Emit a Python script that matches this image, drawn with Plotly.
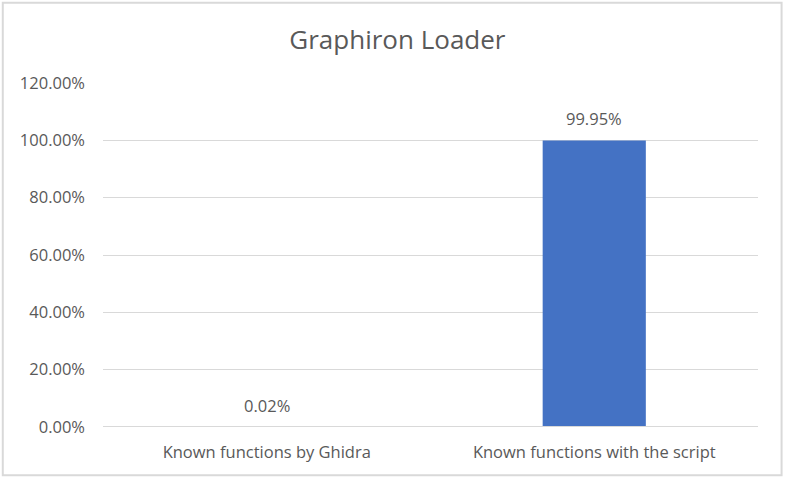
import plotly.graph_objects as go

categories = ["Known functions by Ghidra", "Known functions with the script"]
shares = [0.0002, 0.9995]
y_ticks = [0, 0.2, 0.4, 0.6, 0.8, 1.0, 1.2]

TEXT = "#595959"
GRID = "#D9D9D9"
FONT = "Open Sans"

fig = go.Figure(go.Bar(
    x=categories,
    y=shares,
    marker=dict(color="#4472C4", line=dict(width=0)),
    hoverinfo="skip",
))

# data labels sit a bit above the bar tops, like Excel
for cat, val in zip(categories, shares):
    fig.add_annotation(
        x=cat, y=val, text=f"{val:.2%}",
        showarrow=False, yanchor="bottom", yshift=8,
        font=dict(family=FONT, size=16.5, color=TEXT),
    )

# category axis line, drawn above the bars like Excel does
fig.add_shape(
    type="line", xref="paper", yref="y", x0=0, x1=1, y0=0, y1=0,
    line=dict(color=GRID, width=2), layer="above",
)

# chart border
fig.add_shape(
    type="rect", xref="paper", yref="paper",
    x0=-0.153, x1=1.036, y0=-0.14, y1=1.233,
    line=dict(color=GRID, width=2), fillcolor="rgba(0,0,0,0)",
)

fig.update_layout(
    width=787, height=481,
    margin=dict(l=103, r=29, t=83, b=54),
    paper_bgcolor="white", plot_bgcolor="white",
    bargap=0.685,
    showlegend=False,
    title=dict(
        text="Graphiron Loader", x=0.505, xanchor="center",
        y=0.917, yanchor="middle",
        font=dict(family=FONT, size=26, color=TEXT),
    ),
    font=dict(family=FONT, color=TEXT),
)
fig.update_yaxes(
    range=[0, 1.2], tickvals=y_ticks, tickformat=".2%",
    showgrid=True, gridcolor=GRID, gridwidth=1,
    zeroline=False, showline=False,
    ticklabelstandoff=17,
    tickfont=dict(family=FONT, size=16.5, color=TEXT),
)
fig.update_xaxes(
    showline=False,
    ticks="", ticklabelstandoff=13,
    tickfont=dict(family=FONT, size=16.5, color=TEXT),
)

# drop the default page margin so the figure sits at the window corner
fig.write_html(
    "out.html",
    config={"displayModeBar": False},
    post_script="document.body.style.margin='0';document.body.style.overflow='hidden';",
)
